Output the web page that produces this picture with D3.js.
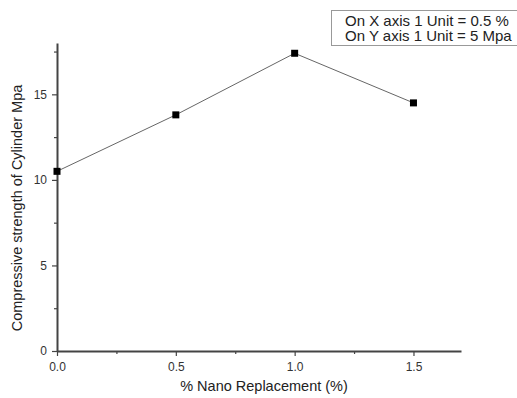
<!DOCTYPE html>
<html>
<head>
<meta charset="utf-8">
<script src="https://cdn.jsdelivr.net/npm/d3@7"></script>
<style>
  body { margin: 0; background: #fff; }
  text { font-family: "Liberation Sans", Arial, sans-serif; }
</style>
</head>
<body>
<div id="chart"></div>
<script>
// data
const replacement = [0.0, 0.5, 1.0, 1.5];
const strength = [10.5, 13.8, 17.4, 14.5];
const xTicks = [0.0, 0.5, 1.0, 1.5];
const xMinorTicks = [0.25, 0.75, 1.25];
const yTicks = [0, 5, 10, 15];
const yMinorTicks = [2.5, 7.5, 12.5, 17.5];
const legendLines = ['On X axis 1 Unit = 0.5 %', 'On Y axis 1 Unit = 5 Mpa'];

const W = 517, H = 398;
const margin = {top: 43, right: 56, bottom: 47, left: 57};
const width = W - margin.left - margin.right;
const height = H - margin.top - margin.bottom;

const svg = d3.select('#chart')
  .append('svg')
  .attr('width', W)
  .attr('height', H);

const g = svg.append('g')
  .attr('transform', `translate(${margin.left},${margin.top})`);

const x = d3.scaleLinear().domain([0, 1.7]).range([0, width]);
const y = d3.scaleLinear().domain([0, 18]).range([height, 0]);

const axisColor = '#444';
const font = '"Liberation Sans", Arial, sans-serif';

// minor ticks
g.append('g')
  .attr('transform', `translate(0,${height})`)
  .call(d3.axisBottom(x).tickValues(xMinorTicks).tickSize(3).tickFormat(''))
  .call(a => a.select('.domain').remove())
  .call(a => a.selectAll('line').attr('stroke', axisColor).attr('stroke-width', 1.2));
g.append('g')
  .call(d3.axisLeft(y).tickValues(yMinorTicks).tickSize(3).tickFormat(''))
  .call(a => a.select('.domain').remove())
  .call(a => a.selectAll('line').attr('stroke', axisColor).attr('stroke-width', 1.2));

// X axis
g.append('g')
  .attr('transform', `translate(0,${height})`)
  .call(d3.axisBottom(x).tickValues(xTicks).tickSize(5).tickSizeOuter(0).tickFormat(d3.format('.1f')))
  .call(a => a.select('.domain').attr('stroke', axisColor).attr('stroke-width', 2))
  .call(a => a.selectAll('line').attr('stroke', axisColor).attr('stroke-width', 1.2))
  .call(a => a.selectAll('text').attr('fill', '#333').attr('font-size', 12).attr('dy', '1.0em')
    .style('font-family', font));

// Y axis
g.append('g')
  .call(d3.axisLeft(y).tickValues(yTicks).tickSize(5).tickSizeOuter(0).tickFormat(d3.format('d')))
  .call(a => a.select('.domain').attr('stroke', axisColor).attr('stroke-width', 2))
  .call(a => a.selectAll('line').attr('stroke', axisColor).attr('stroke-width', 1.2))
  .call(a => a.selectAll('text').attr('fill', '#333').attr('font-size', 12).attr('x', -10)
    .style('font-family', font));

// axis labels
svg.append('text')
  .attr('x', 264)
  .attr('y', 391)
  .attr('text-anchor', 'middle')
  .attr('font-size', 14.5)
  .attr('fill', '#222')
  .text('% Nano Replacement (%)');

svg.append('text')
  .attr('transform', 'translate(22,208) rotate(-90)')
  .attr('text-anchor', 'middle')
  .attr('font-size', 14.5)
  .attr('fill', '#222')
  .text('Compressive strength of Cylinder Mpa');

// line + markers
const pts = replacement.map((r, i) => ({x: r, y: strength[i]}));
g.append('path')
  .datum(pts)
  .attr('fill', 'none')
  .attr('stroke', '#666')
  .attr('stroke-width', 1)
  .attr('d', d3.line().x(d => x(d.x)).y(d => y(d.y)));

g.selectAll('rect.pt')
  .data(pts)
  .join('rect')
  .attr('class', 'pt')
  .attr('x', d => x(d.x) - 3.5)
  .attr('y', d => y(d.y) - 3.5)
  .attr('width', 7)
  .attr('height', 7)
  .attr('fill', '#000');

// note box
const box = svg.append('g').attr('transform', 'translate(331,10)');
box.append('rect')
  .attr('x', 0.5).attr('y', 0.5)
  .attr('width', 190).attr('height', 35)
  .attr('fill', '#fff')
  .attr('stroke', '#999')
  .attr('stroke-width', 1);
box.selectAll('text')
  .data(legendLines)
  .join('text')
  .attr('x', 14)
  .attr('y', (d, i) => 15.5 + i * 15.5)
  .attr('font-size', 15)
  .attr('fill', '#222')
  .text(d => d);
</script>
</body>
</html>
